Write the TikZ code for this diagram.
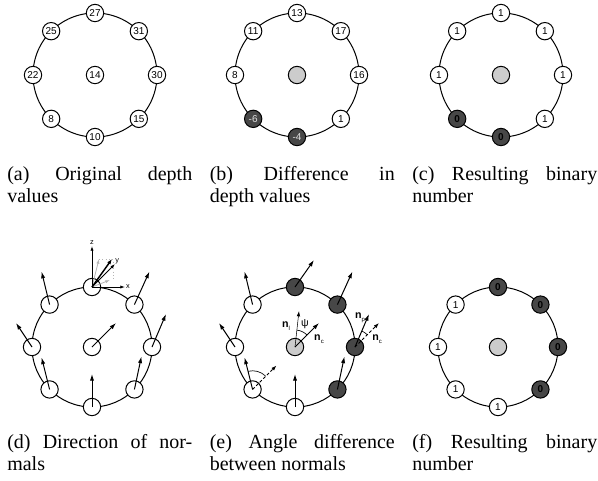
\documentclass[tikz,border=0pt]{standalone}
\usepackage{fontspec}
\setmainfont{Liberation Serif}
\newfontfamily\sansf{Liberation Sans}
\usetikzlibrary{arrows.meta}
\definecolor{darkc}{HTML}{474747}
\definecolor{lightc}{HTML}{CCCCCC}
\definecolor{grayc}{HTML}{B4B4B4}
\begin{document}
\begin{tikzpicture}[x=0.75pt,y=-0.75pt,
  ring/.style={line width=0.75pt},
  pt/.style={circle,draw,line width=0.75pt,minimum size=13pt,inner sep=0pt,fill=white,font=\sansf\fontsize{7.5}{8}\selectfont},
  dkw/.style={pt,fill=darkc,text=white!88!black},
  dkb/.style={pt,fill=darkc,font=\sansf\bfseries\fontsize{7.5}{8}\selectfont},
  lt/.style={pt,fill=lightc},
  nrm/.style={line width=0.75pt,-{Latex[length=5pt,width=3.2pt]}},
  thinarr/.style={line width=0.4pt,-{Latex[length=4pt,width=2.6pt]}},
  dasharr/.style={line width=0.75pt,dash pattern=on 2.2pt off 1.6pt,-{Latex[length=4pt,width=2.8pt]}},
  axis/.style={line width=0.6pt,-{Latex[length=3.5pt,width=2.4pt]}},
  grayarr/.style={line width=0.6pt,draw=grayc,-{Latex[length=3.5pt,width=2.4pt]}},
  axlbl/.style={inner sep=0.5pt,font=\sansf\fontsize{5.5}{6}\selectfont},
  nlbl/.style={inner sep=0pt,font=\sansf\fontsize{8}{9}\selectfont},
  capt/.style={anchor=base west,inner sep=0pt,align=justify,text width=138.75pt,font=\fontsize{15}{17}\selectfont},
]
\useasboundingbox (0,0) rectangle (598,480);
\newcommand{\nsub}[1]{\textbf{n}\raisebox{-2pt}{\fontsize{4.5}{5}\selectfont #1}}

% ---------- (a)
\coordinate (A) at (95,75);
\draw[ring] (A) circle[radius=46.5pt];
\foreach \k/\t/\s in {0/27/pt,1/31/pt,2/30/pt,3/15/pt,4/10/pt,5/8/pt,6/22/pt,7/25/pt}
  \node[\s] (a\k) at ([shift={({90-45*\k}:46.5pt)}]A) {\t};
\node[pt] (ac) at (A) {14};

% ---------- (b)
\coordinate (B) at (297,75);
\draw[ring] (B) circle[radius=46.5pt];
\foreach \k/\t/\s in {0/13/pt,1/17/pt,2/16/pt,3/1/pt,4/-4/dkw,5/-6/dkw,6/8/pt,7/11/pt}
  \node[\s] (b\k) at ([shift={({90-45*\k}:46.5pt)}]B) {\t};
\node[lt] (bc) at (B) {};

% ---------- (c)
\coordinate (C) at (501,75);
\draw[ring] (C) circle[radius=46.5pt];
\foreach \k/\t/\s in {0/1/pt,1/1/pt,2/1/pt,3/1/pt,4/0/dkb,5/0/dkb,6/1/pt,7/1/pt}
  \node[\s] (c\k) at ([shift={({90-45*\k}:46.5pt)}]C) {\t};
\node[lt] (cc) at (C) {};

% ---------- (d)
\coordinate (D) at (92,347);
\draw[ring] (D) circle[radius=45pt];
\foreach \k in {0,...,7}
  \node[pt] (d\k) at ([shift={({90-45*\k}:45pt)}]D) {};
\node[pt] (dc) at (D) {};
\draw[nrm] (d1.center) -- ++(15,-33);
\draw[nrm] (d2.center) -- ++(14,-33);
\draw[nrm] (d3.center) -- ++(7,-33);
\draw[nrm] (d4.center) -- ++(0,-33);
\draw[nrm] (d5.center) -- ++(-8,-32);
\draw[nrm] (d6.center) -- ++(-16,-24);
\draw[nrm] (d7.center) -- ++(-8,-33);
\draw[nrm] (dc.center) -- ++(24,-24);
% axes on top node
\draw[grayc,line width=0.5pt,dotted] ([shift={(7,-28)}]d0.center) -- ([shift={(21,-28)}]d0.center) -- ([shift={(21,-8)}]d0.center);
\draw[grayarr] (d0.center) -- ++(7,-28);
\draw[grayarr] (d0.center) -- ++(18,-7);
\draw[axis] (d0.center) -- ++(0,-41) node[axlbl,above] {z};
\draw[axis] (d0.center) -- ++(33,0) node[axlbl,right] {x};
\draw[axis] (d0.center) -- ++(23,-23) node[axlbl,above right,inner sep=0pt] {y};
\draw[line width=1.1pt,-{Latex[length=4pt,width=3pt]}] (d0.center) -- ++(20,-28);

% ---------- (e)
\coordinate (E) at (295,347);
\draw[ring] (E) circle[radius=45pt];
\foreach \k/\s in {0/dkb,1/dkb,2/dkb,3/dkb,4/pt,5/pt,6/pt,7/pt}
  \node[\s] (e\k) at ([shift={({90-45*\k}:45pt)}]E) {};
\node[lt] (ec) at (E) {};
\draw[nrm] (e0.center) -- ++(19,-27);
\draw[nrm] (e1.center) -- ++(15,-33);
\draw[nrm] (e2.center) -- ++(14,-33);
\draw[nrm] (e3.center) -- ++(7,-33);
\draw[nrm] (e4.center) -- ++(0,-33);
\draw[nrm] (e5.center) -- ++(-8,-32);
\draw[nrm] (e6.center) -- ++(-16,-24);
\draw[nrm] (e7.center) -- ++(-8,-33);
\draw[nrm] (ec.center) -- ++(24,-24);
\draw[thinarr] (ec.center) -- ++(4,-36);
\draw[line width=0.5pt] (ec.center) ++(46:12.75pt) arc[start angle=46,end angle=84,radius=12.75pt];
\draw[dasharr] (e2.center) -- ++(24,-24);
\draw[line width=0.5pt] (e2.center) ++(46:13pt) arc[start angle=46,end angle=67,radius=13pt];
\draw[dasharr] (e5.center) -- ++(24,-24);
\draw[line width=0.5pt] (e5.center) ++(46:14pt) arc[start angle=46,end angle=104,radius=14pt];
\node[nlbl] (lnl) at (286,326) {\nsub{l}};
\node[nlbl] (lpsi) at (305,324) {ψ};
\node[nlbl] (lnc) at (319,339) {\nsub{c}};
\node[nlbl] (lnp) at (360,318) {\nsub{p}};
\node[nlbl] (lnc2) at (377,339) {\nsub{c}};

% ---------- (f)
\coordinate (F) at (498,347);
\draw[ring] (F) circle[radius=45pt];
\foreach \k/\t/\s in {0/0/dkb,1/0/dkb,2/0/dkb,3/0/dkb,4/1/pt,5/1/pt,6/1/pt,7/1/pt}
  \node[\s] (f\k) at ([shift={({90-45*\k}:45pt)}]F) {\t};
\node[lt] (fc) at (F) {};

% ---------- captions
\node[capt] (capa) at (7,180) {(a) Original depth\linebreak values};
\node[capt] (capb) at (209.5,180) {(b) Difference in\linebreak depth values};
\node[capt] (capc) at (412,180) {(c) Resulting binary\linebreak number};
\node[capt] (capd) at (7,448) {(d) Direction of nor-\linebreak mals};
\node[capt] (cape) at (209.5,448) {(e) Angle difference\linebreak between normals};
\node[capt] (capf) at (412,448) {(f) Resulting binary\linebreak number};
\end{tikzpicture}
\end{document}
